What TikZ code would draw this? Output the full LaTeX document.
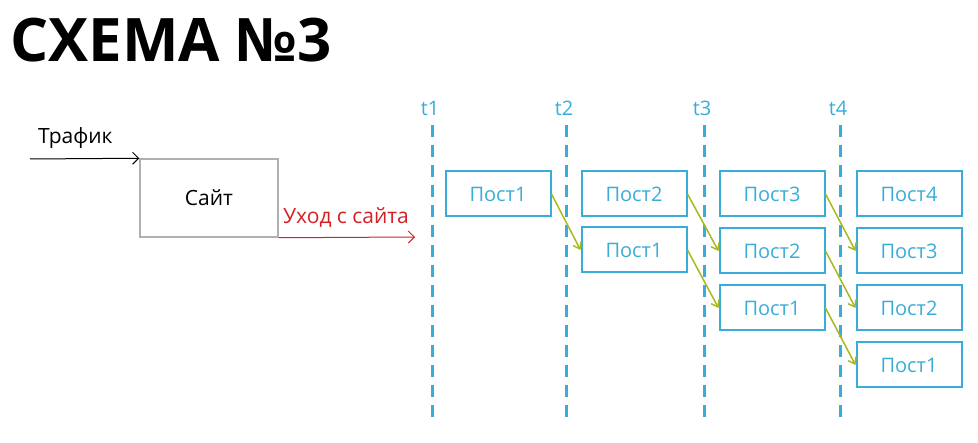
\documentclass[tikz,border=0pt]{standalone}
\usepackage{fontspec}
\setmainfont{Open Sans}
\usetikzlibrary{arrows.meta}
\definecolor{cblue}{HTML}{3AACDA}
\definecolor{cgreen}{HTML}{A8B81E}
\definecolor{cred}{HTML}{D42026}
\definecolor{cgray}{HTML}{B0B0B0}
\tikzset{
  post/.style={draw=cblue, line width=2pt, minimum width=105pt, minimum height=45pt, inner sep=0pt, text=cblue, font=\fontsize{20}{20}\selectfont},
  tline/.style={draw=cblue, line width=3pt, dash pattern=on 12pt off 8pt},
  tlab/.style={text=cblue, font=\fontsize{20}{20}\selectfont, inner sep=0pt},
  movearrow/.style={draw=cgreen, line width=1.5pt, -{Straight Barb[length=6pt,width=9pt]}},
  lab/.style={inner sep=0pt, font=\fontsize{21}{21}\selectfont},
}
\begin{document}
\begin{tikzpicture}[x=1pt,y=-1pt]
\useasboundingbox (0,0) rectangle (978,443);
% title
\node[anchor=west, inner sep=0pt, font=\fontsize{60}{60}\selectfont\bfseries] (title) at (10,40) {СХЕМА №3};
% site
\node[draw=cgray, line width=1.5pt, minimum width=138pt, minimum height=78pt, lab] (site) at (209,198) {Сайт};
\coordinate (tin) at (30,159);
\draw[line width=1pt, -{Straight Barb[length=6pt,width=12pt]}] (tin) -- (site.north west);
\node[anchor=south west, lab] (traf) at (38,149) {Трафик};
\coordinate (out) at (415,237);
\draw[draw=cred, line width=1pt, -{Straight Barb[length=6pt,width=12pt]}] (site.south east) -- (out);
\node[anchor=south west, text=cred, lab] (exit) at (283,228) {Уход с сайта};
% time lines
\foreach \i/\x in {1/432,2/566,3/704,4/840}{
  \coordinate (top\i) at (\x,125);
  \coordinate (bot\i) at (\x,420);
  \draw[tline] (top\i) -- (bot\i);
  \node[tlab] (t\i) at (\x-2,108) {t\i};
}
% posts
\node[post] (a1) at (498,194) {Пост1};
\node[post] (b1) at (634,194) {Пост2};
\node[post] (b2) at (634,250) {Пост1};
\node[post] (c1) at (772,194) {Пост3};
\node[post] (c2) at (772,251) {Пост2};
\node[post] (c3) at (772,308) {Пост1};
\node[post] (d1) at (909,194) {Пост4};
\node[post] (d2) at (909,251) {Пост3};
\node[post] (d3) at (909,308) {Пост2};
\node[post] (d4) at (909,365) {Пост1};
% moves
\draw[movearrow] (a1.east) -- (b2.west);
\draw[movearrow] (b1.east) -- (c2.west);
\draw[movearrow] (b2.east) -- (c3.west);
\draw[movearrow] (c1.east) -- (d2.west);
\draw[movearrow] (c2.east) -- (d3.west);
\draw[movearrow] (c3.east) -- (d4.west);
\end{tikzpicture}
\end{document}
